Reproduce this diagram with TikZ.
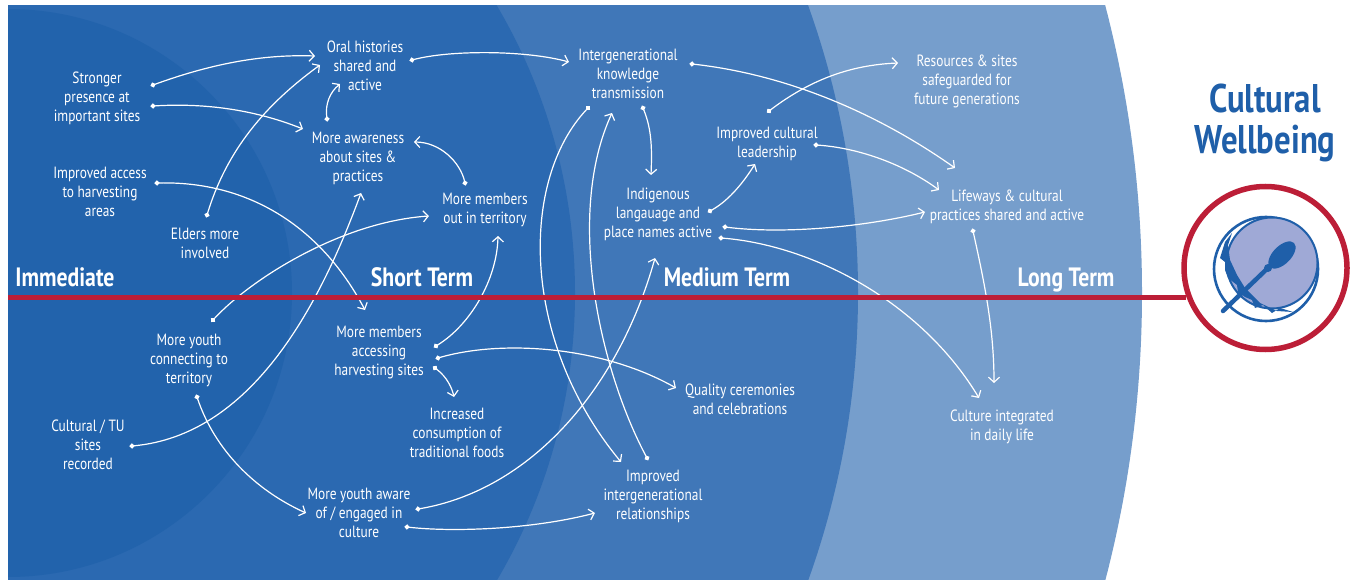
\documentclass[tikz,border=0pt]{standalone}
\usepackage{fontspec}
\setmainfont[FakeStretch=.82]{PT Sans}
\usetikzlibrary{arrows.meta}
\definecolor{zoneA}{HTML}{2263AC}
\definecolor{zoneB}{HTML}{2B69B1}
\definecolor{zoneC}{HTML}{4077B8}
\definecolor{zoneD}{HTML}{769ECC}
\definecolor{lineRed}{HTML}{BC1E37}
\definecolor{drumBlue}{HTML}{1F5FA9}
\definecolor{drumFill}{HTML}{9FA9D6}
\tikzset{
  outcome/.style={text=white, align=center, inner sep=0pt, yshift=-2.8pt, font=\fontsize{16.3}{18.8}\selectfont,
    execute at begin node=\strut, execute at end node=\strut},
  horizon/.style={text=white, inner sep=0pt, yshift=-3pt, font=\fontsize{26.5}{30}\selectfont\bfseries,
    execute at begin node=\strut, execute at end node=\strut},
  link/.style={draw=white, line width=1.2pt, shorten <=-2.5pt, {Circle[length=5pt]}-{Straight Barb[length=5pt,width=11pt]}}
}
\begin{document}
\begin{tikzpicture}[x=1pt,y=-1pt]
  \useasboundingbox (0,0) rectangle (1351,580);
  % zones
  \begin{scope}
    \clip (8,6) rectangle (1351,580);
    \foreach \r/\c in {1134/zoneD,850/zoneC,567/zoneB,284/zoneA}{
      \fill[\c] (8,293) circle (\r);
    }
  \end{scope}
  % outcomes
  \node[outcome] (stronger) at (97,97) {Stronger\\presence at\\important sites};
  \node[outcome] (access) at (100,192) {Improved access\\to harvesting\\areas};
  \node[outcome] (elders) at (205,243) {Elders more\\involved};
  \node[outcome] (oral) at (365,66) {Oral histories\\shared and\\active};
  \node[outcome] (awareness) at (358,157) {More awareness\\about sites \&\\practices};
  \node[outcome] (out) at (485,208) {More members\\out in territory};
  \node[outcome] (youth) at (189,359) {More youth\\connecting to\\territory};
  \node[outcome] (recorded) at (88,445) {Cultural / TU\\sites\\recorded};
  \node[outcome] (accessing) at (379,351) {More members\\accessing\\harvesting sites};
  \node[outcome] (foods) at (457,433) {Increased\\consumption of\\traditional foods};
  \node[outcome] (engaged) at (359,513) {More youth aware\\of / engaged in\\culture};
  \node[outcome] (knowledge) at (628,74) {Intergenerational\\knowledge\\transmission};
  \node[outcome] (language) at (658,213) {Indigenous\\langauage and\\place names active};
  \node[outcome] (leadership) at (767,142) {Improved cultural\\leadership};
  \node[outcome] (ceremonies) at (740,399) {Quality ceremonies\\and celebrations};
  \node[outcome] (relations) at (653,495) {Improved\\intergenerational\\relationships};
  \node[outcome] (resources) at (967,80) {Resources \& sites\\safeguarded for\\future generations};
  \node[outcome] (lifeways) at (1007,205) {Lifeways \& cultural\\practices shared and active};
  \node[outcome] (daily) at (1002,425) {Culture integrated\\in daily life};
  % horizons
  \node[horizon] (immediate) at (65,277) {Immediate};
  \node[horizon] (short) at (422,277) {Short Term};
  \node[horizon] (medium) at (727,277) {Medium Term};
  \node[horizon] (long) at (1066,277) {Long Term};
  % connector ends
  \foreach \n/\x/\y in {strongerA/153/85,strongerB/153/106,accessOut/157/183,eldersOut/207/215,
    awarenessOut/327/119,outOut/465/183,recordedOut/132/446,youthA/213/320,youthB/197/397,
    accessingA/436/346,accessingB/438/358,accessingC/435/368,oralOut/412/60,knowledgeA/692/64,
    knowledgeB/643/108,knowledgeC/588/108,relationsOut/647/458,engagedA/418/509,engagedB/407/527,
    languageA/710/211,languageB/725/227,languageC/721/238,leadershipA/769/111,leadershipB/816/145,
    lifewaysOut/973/231,
    oralA/315/56,oralB/320/65,oralC/340/84,awarenessA/303/129,awarenessB/414/142,awarenessC/361/193,
    accessingIn/365/310,outA/429/216,outB/498/236,engagedIn/306/513,foodsIn/454/397,
    ceremoniesIn/676/388,knowledgeInA/569/62,knowledgeInB/612/113,languageInA/651/175,
    languageInB/655/258,relationsA/621/462,relationsB/595/513,leadershipIn/755/164,
    resourcesIn/898/63,lifewaysA/955/168,lifewaysB/939/190,lifewaysC/925/212,
    dailyA/979/398,dailyB/994/383}{
    \coordinate (\n) at (\x,\y);
  }
  % connectors
  \draw[link] (strongerA) .. controls +(55,-20) and +(-55,-2) .. (oralA);
  \draw[link] (strongerB) .. controls +(50,-3) and +(-50,-20) .. (awarenessA);
  \draw[link] (accessOut) .. controls +(90,-2) and +(-45,-85) .. (accessingIn);
  \draw[link] (eldersOut) .. controls +(20,-65) and +(-55,40) .. (oralB);
  \draw[link] (awarenessOut) .. controls +(-2,-15) and +(-10,8) .. (oralC);
  \draw[link] (outOut) .. controls +(-5,-21) and +(26,0) .. (awarenessB);
  \draw[link] (recordedOut) .. controls +(118,-11) and +(-43,117) .. (awarenessC);
  \draw[link] (youthA) .. controls +(37,-40) and +(-89,6) .. (outA);
  \draw[link] (youthB) .. controls +(18,53) and +(-51,-23) .. (engagedIn);
  \draw[link] (accessingA) .. controls +(34,-21) and +(-1,44) .. (outB);
  \draw[link] (accessingB) .. controls +(62,-18) and +(-76,-43) .. (ceremoniesIn);
  \draw[link] (accessingC) .. controls +(12,9) and +(-2,-9) .. (foodsIn);
  \draw[link] (oralOut) .. controls +(38,-10) and +(-44,-12) .. (knowledgeInA);
  \draw[link] (knowledgeA) .. controls +(98,11) and +(-75,-53) .. (lifewaysA);
  \draw[link] (knowledgeB) .. controls +(9,22) and +(1,-25) .. (languageInA);
  \draw[link] (knowledgeC) .. controls +(-68,72) and +(-101,-122) .. (relationsA);
  \draw[link] (relationsOut) .. controls +(-47,-88) and +(-47,102) .. (knowledgeInB);
  \draw[link] (engagedA) .. controls +(112,-19) and +(-37,132) .. (languageInB);
  \draw[link] (engagedB) .. controls +(43,5) and +(-65,17) .. (relationsB);
  \draw[link] (languageA) .. controls +(20,-11) and +(-10,16) .. (leadershipIn);
  \draw[link] (languageB) .. controls +(55,7) and +(-65,16) .. (lifewaysC);
  \draw[link] (languageC) .. controls +(89,7) and +(-59,-98) .. (dailyA);
  \draw[link] (leadershipA) .. controls +(41,-31) and +(-48,2) .. (resourcesIn);
  \draw[link] (leadershipB) .. controls +(44,3) and +(-34,-25) .. (lifewaysB);
  \draw[link] (lifewaysOut) .. controls +(12,54) and +(0,-53) .. (dailyB);
  % timeline and emblem
  \node[circle, draw=lineRed, fill=white, line width=5.5pt, minimum size=163pt, inner sep=0pt] (ring) at (1265.5,268) {};
  \coordinate (lineStart) at (8,297.5);
  \draw[lineRed, line width=5pt] (lineStart) -- (lineStart -| ring.199);
  \draw[drumBlue, line width=2.6pt, fill=white] (1266,269) circle (52);
  \draw[drumBlue, line width=2pt, fill=drumFill] (1272,263) circle (45.5);
  \fill[drumBlue] (1232,233) -- (1225,242) -- (1220,258) -- (1225,262) -- (1225,270) -- (1228,278)
    -- (1237,285) -- (1238,292) -- (1245,297) -- (1252,300) -- (1255,308) -- (1263,305) -- (1272,313)
    -- (1280,308) -- (1293,312) -- (1277,311) -- (1260,303) -- (1245,288) -- (1237,275) -- (1230,260)
    -- (1228,245) -- cycle;
  \draw[drumBlue, line width=4.5pt, line cap=round] (1223,311) -- (1270,266);
  \fill[drumBlue, rotate around={45:(1282,255)}] (1282,255) ellipse (17 and 9);
  \fill[drumBlue] (1268,268) circle (4);
  \node[text=drumBlue, align=center, inner sep=0pt, font=\fontsize{40}{41}\selectfont\bfseries] (title) at (1265,123) {Cultural\\Wellbeing};
\end{tikzpicture}
\end{document}
